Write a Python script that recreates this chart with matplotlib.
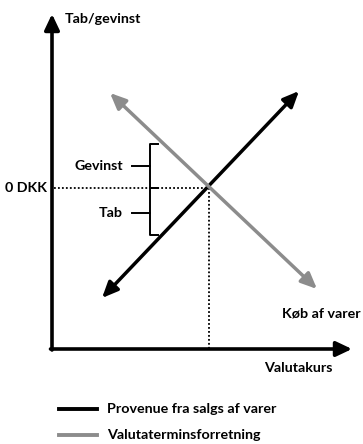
import matplotlib
matplotlib.use("Agg")
import matplotlib.pyplot as plt
from matplotlib.lines import Line2D

# ---- data (conceptual units: x = valutakurs, y = tab/gevinst) ----
provenue_x = [50, 247]
provenue_y = [-110, 97]
termin_x = [58, 265]
termin_y = [95, -101]
cross_x = 157          # exchange rate where both lines meet
zero_y = 0             # 0 DKK
gevinst_range = [0, 44]
tab_range = [-47, 0]
brace_x = 98

labels = {
    "y_axis": "Tab/gevinst",
    "x_axis": "Valutakurs",
    "zero": "0 DKK",
    "gevinst": "Gevinst",
    "tab": "Tab",
    "koeb": "Køb af varer",
}
legend_labels = ["Provenue fra salgs af varer", "Valutaterminsforretning"]
colors = ["#000000", "#8c8c8c"]

W, H = 363, 444
fig = plt.figure(figsize=(W / 100, H / 100), dpi=100)
FONT = dict(family="Lato", fontweight="bold", fontsize=10.3)

# axes area: origin at px (52, 349), top px 14, right px 352
ax = fig.add_axes([52 / W, (H - 349) / H, 300 / W, 335 / H])
ax.set_xlim(0, 300)
ax.set_ylim(-161, 174)
ax.axis("off")

# main axes arrows
ax.annotate("", xy=(0, 174), xytext=(0, -162),
            arrowprops=dict(arrowstyle="-|>,head_length=0.95,head_width=0.45",
                            lw=2.6, color="black", shrinkA=0, shrinkB=0),
            annotation_clip=False)
ax.annotate("", xy=(300, -161), xytext=(-1.5, -161),
            arrowprops=dict(arrowstyle="-|>,head_length=0.95,head_width=0.45",
                            lw=2.6, color="black", shrinkA=0, shrinkB=0),
            annotation_clip=False)

# dotted guides
ax.plot([2, cross_x], [zero_y, zero_y], color="black", lw=1.3, ls=(0, (1, 1.2)))
ax.plot([cross_x, cross_x], [zero_y, -161], color="black", lw=1.3, ls=(0, (1, 1.2)))

# the two lines with arrowheads at both ends
for xs, ys, c in [(provenue_x, provenue_y, colors[0]), (termin_x, termin_y, colors[1])]:
    ax.annotate("", xy=(xs[1], ys[1]), xytext=(xs[0], ys[0]),
                arrowprops=dict(arrowstyle="<|-|>,head_length=0.95,head_width=0.42",
                                lw=2.5, color=c, shrinkA=0, shrinkB=0))

# braces
def brace(y0, y1, ymid):
    hook = 8
    ax.plot([brace_x + hook, brace_x, brace_x, brace_x + hook],
            [y1, y1, y0, y0], color="black", lw=1.4, solid_joinstyle="round")
    ax.plot([brace_x - 18, brace_x], [ymid, ymid], color="black", lw=1.4)

brace(gevinst_range[0], gevinst_range[1], 22)
brace(tab_range[0], tab_range[1], -25)

# texts
ax.text(brace_x - 27, 22, labels["gevinst"], ha="right", va="center", **FONT)
ax.text(brace_x - 27, -25, labels["tab"], ha="right", va="center", **FONT)
ax.text(-5, zero_y, labels["zero"], ha="right", va="center", **FONT)
ax.text(13, 169, labels["y_axis"], ha="left", va="center", **FONT)
ax.text(309, -125, labels["koeb"], ha="right", va="center", **FONT)
ax.text(281, -180, labels["x_axis"], ha="right", va="center", **FONT)

# legend (manual)
for i, (lab, c) in enumerate(zip(legend_labels, colors)):
    y = -221 - 26 * i
    ax.add_line(Line2D([7, 45], [y, y], color=c, lw=2.8, clip_on=False))
    ax.text(55, y, lab, ha="left", va="center", **FONT)

fig.savefig("out.png", dpi=100)
